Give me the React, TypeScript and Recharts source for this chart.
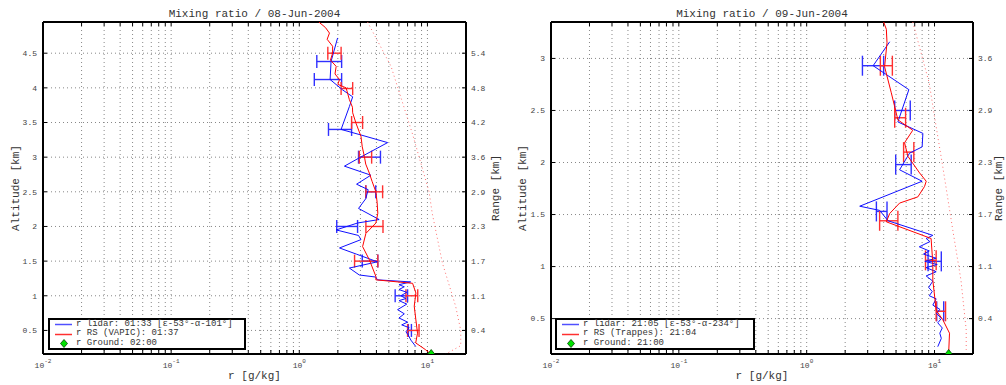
import React from "react";
import { ScatterChart, Scatter, XAxis, YAxis, CartesianGrid, ErrorBar } from "recharts";

const FONT = '"Liberation Mono", "DejaVu Sans Mono", monospace';

// shared log axis (mixing ratio, g/kg)
const xTicks = [
  0.01, 0.02, 0.03, 0.04, 0.05, 0.06, 0.07, 0.08, 0.09,
  0.1, 0.2, 0.3, 0.4, 0.5, 0.6, 0.7, 0.8, 0.9,
  1, 2, 3, 4, 5, 6, 7, 8, 9, 10, 20,
];

// ---- 08-Jun-2004 ----
const altTicks1 = [0.5, 1, 1.5, 2, 2.5, 3, 3.5, 4, 4.5];
const rangeLabels1 = ["0.4", "1.1", "1.7", "2.3", "2.9", "3.6", "4.2", "4.8", "5.4"];

// [r, alt]
const lidar1: [number, number][] = [
  [1.99, 4.72], [1.77, 4.38], [1.74, 4.12], [2.18, 3.97], [2.61, 3.87], [2.46, 3.73],
  [2.12, 3.4], [3.03, 3.32], [4.89, 3.21], [2.94, 2.99], [2.25, 2.87], [3.62, 2.74],
  [2.8, 2.61], [3.45, 2.53], [3.3, 2.4], [2.9, 2.26], [4.2, 2.1], [2.85, 2.05],
  [1.94, 1.95], [2.9, 1.87], [3.03, 1.81], [2.06, 1.69], [2.8, 1.6], [4.07, 1.49],
  [2.46, 1.4], [2.94, 1.3], [3.96, 1.27], [4.07, 1.23], [7.4, 1.2], [6.0, 1.16],
  [6.6, 1.13], [6.0, 1.09], [6.9, 1.05], [6.2, 1.0], [6.8, 0.96], [6.0, 0.93],
  [6.9, 0.88], [5.85, 0.8], [6.6, 0.74], [6.0, 0.68], [7.0, 0.62], [6.3, 0.58],
  [7.2, 0.54], [6.8, 0.48], [7.1, 0.43], [7.43, 0.36], [8.1, 0.27],
];
const rs1: [number, number][] = [
  [1.42, 4.95], [1.6, 4.87], [1.72, 4.79], [1.65, 4.7], [1.82, 4.6], [1.82, 4.5],
  [1.75, 4.4], [1.94, 4.31], [1.9, 4.2], [2.06, 4.12], [2.0, 4.05], [2.32, 4.0],
  [2.4, 3.9], [2.46, 3.83], [2.6, 3.72], [2.61, 3.64], [2.77, 3.49], [3.03, 3.3],
  [3.1, 3.15], [3.22, 3.01], [3.3, 2.9], [3.52, 2.77], [3.7, 2.65], [3.96, 2.5],
  [4.05, 2.35], [4.1, 2.19], [3.96, 2.05], [3.31, 1.9], [3.12, 1.71], [3.52, 1.52],
  [3.96, 1.28], [3.96, 1.23], [7.66, 1.18], [8.13, 1.04], [7.89, 0.85], [8.13, 0.65],
  [8.37, 0.46], [8.1, 0.32], [9.7, 0.22], [10.6, 0.16],
];
const sat1: [number, number][] = [
  [3.41, 4.95], [5.2, 4.31], [7.66, 3.33], [10.3, 2.5], [10.9, 2.19], [13.1, 1.47],
  [16.6, 0.85], [18.2, 0.5], [18.2, 0.28], [13.9, 0.16],
];
const ground1: [number, number][] = [[10.7, 0.16]];
// [alt, r, low, high]
const lidarErr1: [number, number, number, number][] = [
  [4.38, 1.77, 1.37, 2.14], [4.12, 1.74, 1.31, 2.14], [3.4, 2.12, 1.69, 2.56],
  [3.0, 3.5, 2.9, 4.3], [2.5, 3.6, 3.3, 3.95], [2.0, 2.35, 1.96, 2.85],
  [1.5, 3.5, 3.1, 4.1], [1.0, 6.3, 5.6, 7.0], [0.5, 7.3, 7.1, 7.5],
];
const rsErr1: [number, number, number, number][] = [
  [4.5, 1.88, 1.67, 2.12], [3.99, 2.35, 2.12, 2.61], [3.5, 2.83, 2.56, 3.12],
  [3.0, 3.3, 2.94, 3.67], [2.5, 3.85, 3.31, 4.47], [2.0, 3.9, 3.31, 4.5],
  [1.5, 3.35, 2.7, 4.1], [1.0, 7.55, 6.8, 8.4], [0.5, 7.8, 7.0, 8.6],
];

// ---- 09-Jun-2004 ----
const altTicks2 = [0.5, 1, 1.5, 2, 2.5, 3];
const rangeLabels2 = ["0.4", "1.1", "1.7", "2.3", "2.9", "3.6"];

const lidar2: [number, number][] = [
  [4.46, 3.16], [3.31, 2.93], [6.3, 2.7], [5.17, 2.39], [8.11, 2.28], [8.0, 2.15],
  [6.38, 2.09], [5.33, 1.93], [8.0, 1.82], [2.6, 1.58], [3.72, 1.54], [4.33, 1.44],
  [9.7, 1.3], [8.6, 1.27], [9.2, 1.24], [7.6, 1.19], [9.1, 1.15], [8.2, 1.12],
  [10.3, 1.08], [8.4, 1.05], [10.5, 1.02], [8.6, 0.99], [10.3, 0.95], [8.6, 0.91],
  [9.7, 0.86], [9.0, 0.8], [9.6, 0.76], [9.1, 0.72], [10.3, 0.69], [9.7, 0.63],
  [11.0, 0.59], [10.4, 0.55], [11.3, 0.5], [10.6, 0.46], [11.5, 0.41], [11.0, 0.36],
  [11.3, 0.31], [10.6, 0.23],
];
const rs2: [number, number][] = [
  [4.0, 3.35], [4.2, 3.28], [4.25, 3.15], [4.07, 2.92], [4.59, 2.67], [5.17, 2.41],
  [6.76, 2.31], [5.83, 2.19], [6.19, 2.06], [7.64, 1.9], [8.61, 1.82], [8.36, 1.77],
  [7.41, 1.67], [5.33, 1.61], [4.46, 1.51], [4.2, 1.43], [9.4, 1.27], [9.7, 1.03],
  [9.7, 0.87], [10.3, 0.58], [11.6, 0.49], [13.1, 0.36], [12.9, 0.165],
];
const sat2: [number, number][] = [
  [6.76, 3.35], [9.1, 2.76], [10.0, 2.44], [11.6, 1.96], [13.9, 1.35], [16.1, 0.87],
  [17.7, 0.39], [17.7, 0.2],
];
const ground2: [number, number][] = [[12.9, 0.16]];
const lidarErr2: [number, number, number, number][] = [
  [2.93, 3.3, 2.73, 4.0], [2.5, 5.5, 4.88, 6.46], [1.98, 5.7, 4.97, 6.57],
  [1.53, 3.9, 3.51, 4.25], [1.05, 10.0, 8.9, 11.3], [0.57, 11.0, 10.4, 11.8],
];
const rsErr2: [number, number, number, number][] = [
  [2.93, 4.2, 3.77, 4.68], [2.43, 5.4, 4.88, 5.94], [2.1, 6.3, 5.73, 6.89],
  [1.44, 4.35, 3.72, 5.17], [1.06, 9.4, 8.5, 10.3], [0.57, 11.2, 10.3, 12.2],
];

const toPts = (a: [number, number][]) => a.map(([r, alt]) => ({ r, alt }));
const toErr = (a: [number, number, number, number][]) =>
  a.map(([alt, r, lo, hi]) => ({ r, alt, err: [r - lo, hi - r] }));

const NoDot = () => <g />;

const Diamond = (props: any) => {
  const { cx, cy } = props;
  return (
    <polygon
      points={`${cx},${cy - 4.5} ${cx + 3.5},${cy} ${cx},${cy + 4.5} ${cx - 3.5},${cy}`}
      fill="#00e000"
      stroke="#004400"
      strokeWidth={0.8}
    />
  );
};

const DecadeTick = (props: any) => {
  const { x, y, payload } = props;
  const lg = Math.log10(payload.value);
  const e = Math.round(lg);
  if (Math.abs(lg - e) > 1e-6) return <g />;
  return (
    <text x={x} y={y} textAnchor="middle" fontFamily={FONT} fontSize={8} fill="#444">
      <tspan>10</tspan>
      <tspan dy={-5} fontSize={6}>{e}</tspan>
    </text>
  );
};

type TPanel = {
  title: string;
  yDomain: [number, number];
  altTicks: number[];
  rangeLabels: string[];
  lidar: [number, number][];
  rs: [number, number][];
  sat: [number, number][];
  ground: [number, number][];
  lidarErr: [number, number, number, number][];
  rsErr: [number, number, number, number][];
  leftW: number;
  rightW: number;
  leftLabelOffset: number;
  rightLabelOffset: number;
  cap: number;
  legendLeft: number;
  legendWidth: number;
  legend: string[];
};

const Panel = (p: TPanel) => {
  const tickStyle = { fontSize: 8, fontFamily: FONT, fill: "#444" };
  const axisLine = { stroke: "#000", strokeWidth: 2 };
  const labelStyle = { fontSize: 11, fontFamily: FONT, fill: "#333" };
  return (
    <div style={{ position: "relative", width: 503, height: 385 }}>
      <ScatterChart width={503} height={385} margin={{ top: 4, right: 0, bottom: 0, left: 0 }}>
        <CartesianGrid stroke="#888" strokeDasharray="1 3" />
        <XAxis
          dataKey="r"
          type="number"
          scale="log"
          domain={[0.01, 20]}
          allowDataOverflow
          ticks={xTicks}
          interval={0}
          height={31}
          tickSize={-4}
          tickMargin={18}
          axisLine={axisLine}
          tickLine={{ stroke: "#000" }}
          tick={<DecadeTick />}
          label={{ value: "r [g/kg]", position: "insideBottom", offset: 6, style: labelStyle }}
        />
        <XAxis
          xAxisId="top"
          orientation="top"
          dataKey="r"
          type="number"
          scale="log"
          domain={[0.01, 20]}
          allowDataOverflow
          ticks={xTicks}
          interval={0}
          height={18}
          tickSize={-4}
          axisLine={axisLine}
          tickLine={{ stroke: "#000" }}
          tick={NoDot}
          label={{ value: p.title, position: "center", style: labelStyle }}
        />
        <YAxis
          dataKey="alt"
          type="number"
          domain={p.yDomain}
          allowDataOverflow
          ticks={p.altTicks}
          interval={0}
          width={p.leftW}
          tickSize={-4}
          tickMargin={10}
          axisLine={axisLine}
          tickLine={{ stroke: "#000" }}
          tick={tickStyle}
          label={{
            value: "Altitude [km]",
            angle: -90,
            position: "insideLeft",
            offset: p.leftLabelOffset,
            style: { ...labelStyle, textAnchor: "middle" },
          }}
        />
        <YAxis
          yAxisId="right"
          orientation="right"
          dataKey="alt"
          type="number"
          domain={p.yDomain}
          allowDataOverflow
          ticks={p.altTicks}
          interval={0}
          width={p.rightW}
          tickSize={-4}
          tickMargin={9}
          axisLine={axisLine}
          tickLine={{ stroke: "#000" }}
          tick={tickStyle}
          tickFormatter={(v: number) => p.rangeLabels[p.altTicks.indexOf(v)] ?? ""}
          label={{
            value: "Range [km]",
            angle: -90,
            position: "insideRight",
            offset: p.rightLabelOffset,
            style: { ...labelStyle, textAnchor: "middle" },
          }}
        />
        <Scatter
          data={toPts(p.sat)}
          fill="#ff8080"
          line={{ stroke: "#ff7070", strokeWidth: 1, strokeDasharray: "1 3" }}
          shape={NoDot}
          isAnimationActive={false}
        />
        <Scatter
          data={toPts(p.lidar)}
          fill="#0000ff"
          line={{ stroke: "#1010ff", strokeWidth: 1 }}
          shape={NoDot}
          isAnimationActive={false}
        />
        <Scatter data={toErr(p.lidarErr)} fill="#0000ff" shape={NoDot} isAnimationActive={false}>
          <ErrorBar dataKey="err" direction="x" width={p.cap} stroke="#3030ff" strokeWidth={1.4} />
        </Scatter>
        <Scatter
          data={toPts(p.rs)}
          fill="#ff0000"
          line={{ stroke: "#ff0000", strokeWidth: 1 }}
          shape={NoDot}
          isAnimationActive={false}
        />
        <Scatter data={toErr(p.rsErr)} fill="#ff0000" shape={NoDot} isAnimationActive={false}>
          <ErrorBar dataKey="err" direction="x" width={p.cap} stroke="#ff3030" strokeWidth={1.4} />
        </Scatter>
        <Scatter data={toPts(p.ground)} fill="#00e000" shape={Diamond} isAnimationActive={false} />
      </ScatterChart>
      <div
        style={{
          position: "absolute",
          left: p.legendLeft,
          top: 318,
          width: p.legendWidth,
          height: 32,
          boxSizing: "border-box",
          border: "2px solid #000",
          background: "#fff",
          fontFamily: FONT,
          fontSize: 9,
          lineHeight: "9.4px",
          color: "#333",
        }}
      >
        {p.legend.map((txt, i) => (
          <div key={i} style={{ display: "flex", alignItems: "center", height: 9.4, whiteSpace: "nowrap" }}>
            <svg width={26} height={9} style={{ flex: "none" }}>
              {i === 0 && <line x1={5} x2={22} y1={4.5} y2={4.5} stroke="#5050ff" strokeWidth={1.5} />}
              {i === 1 && <line x1={5} x2={22} y1={4.5} y2={4.5} stroke="#ff3030" strokeWidth={1.5} />}
              {i === 2 && (
                <polygon points="14,0.5 17.5,4.5 14,8.5 10.5,4.5" fill="#00e000" stroke="#004400" strokeWidth={0.8} />
              )}
            </svg>
            <span>{txt}</span>
          </div>
        ))}
      </div>
    </div>
  );
};

export default function App() {
  return (
    <div style={{ position: "absolute", left: 0, top: 0, width: 1006, height: 385, background: "#fff", display: "flex" }}>
      <Panel
        title="Mixing ratio / 08-Jun-2004"
        yDomain={[0.16, 4.95]}
        altTicks={altTicks1}
        rangeLabels={rangeLabels1}
        lidar={lidar1}
        rs={rs1}
        sat={sat1}
        ground={ground1}
        lidarErr={lidarErr1}
        rsErr={rsErr1}
        leftW={43}
        rightW={37}
        leftLabelOffset={15}
        rightLabelOffset={8}
        cap={6.5}
        legendLeft={48}
        legendWidth={198}
        legend={["r lidar: 01:33 [ε-53°-α-101°]", "r RS (VAPIC): 01:37", "r Ground: 02:00"]}
      />
      <Panel
        title="Mixing ratio / 09-Jun-2004"
        yDomain={[0.16, 3.35]}
        altTicks={altTicks2}
        rangeLabels={rangeLabels2}
        lidar={lidar2}
        rs={rs2}
        sat={sat2}
        ground={ground2}
        lidarErr={lidarErr2}
        rsErr={rsErr2}
        leftW={48}
        rightW={33}
        leftLabelOffset={19}
        rightLabelOffset={8}
        cap={10}
        legendLeft={52}
        legendWidth={200}
        legend={["r lidar: 21:05 [ε-53°-α-234°]", "r RS (Trappes): 21:04", "r Ground: 21:00"]}
      />
    </div>
  );
}
